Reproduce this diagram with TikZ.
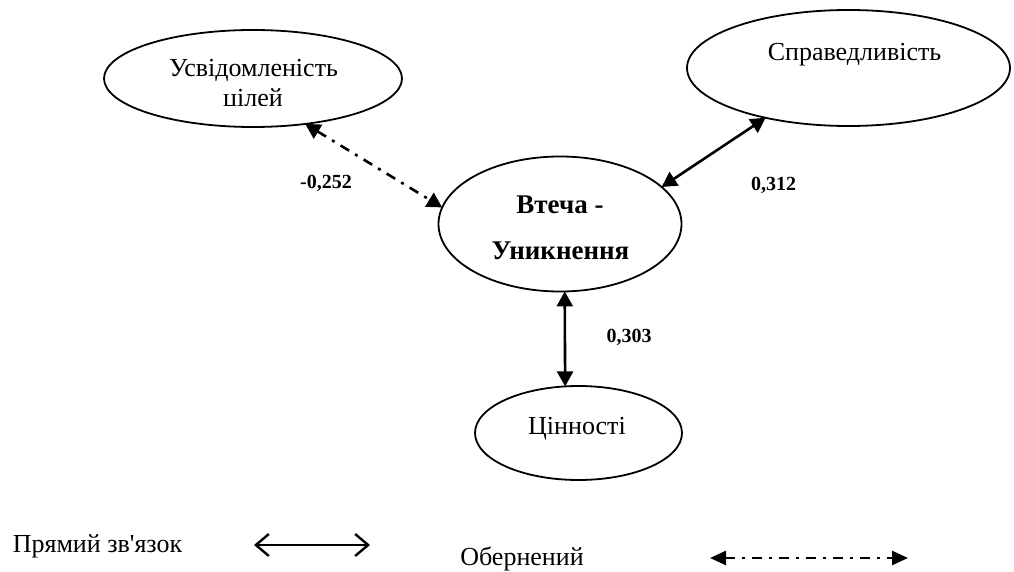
\documentclass[tikz,border=0pt]{standalone}
\usepackage{fontspec}
\setmainfont{Liberation Serif}
\usetikzlibrary{shapes.geometric,arrows.meta}
\begin{document}
\begin{tikzpicture}[x=1pt,y=-1pt,
  oval/.style={draw, ellipse, line width=1.8pt, inner sep=0pt, outer sep=0pt},
  txt/.style={font=\fontsize{26}{30}\selectfont, anchor=base, inner sep=0pt},
  bigtxt/.style={font=\fontsize{27}{32}\selectfont\bfseries, anchor=base, inner sep=0pt},
  coef/.style={font=\fontsize{20}{24}\selectfont\bfseries, anchor=base, inner sep=0pt},
  link/.style={line width=2.6pt, {Triangle[length=15pt,width=16pt]}-{Triangle[length=15pt,width=16pt]}},
  dashdot/.style={dash pattern=on 10pt off 7pt on 3pt off 7pt},
  inverse/.style={link, dashdot},
]
\useasboundingbox (0,0) rectangle (1014,572);

% ellipses
\node[oval, minimum width=298pt, minimum height=97pt] (usv) at (253,78.5) {};
\node[oval, minimum width=323pt, minimum height=116pt] (spr) at (848.5,68) {};
\node[oval, minimum width=243pt, minimum height=135pt] (vt) at (560,224) {};
\node[oval, minimum width=207pt, minimum height=94pt] (cin) at (578.5,433) {};

% ellipse texts
\node[txt] (usvA) at (253.5,77) {Усвідомленість};
\begin{scope}
  \clip (150,85) rectangle (360,106);
  \node[txt] (usvB) at (253,107) {цілей};
\end{scope}
\node[txt] (sprT) at (854.5,61) {Справедливість};
\node[bigtxt] (vtA) at (560,214) {Втеча -};
\node[bigtxt] (vtB) at (560.5,259) {Уникнення};
\node[txt] (cinT) at (577,434) {Цінності};

% connectors
\draw[inverse] (usv.-41) -- (vt.172);
\draw[link] (vt.20) -- (spr.211.5);
\draw[link] (vt.-86) -- (cin.106);

% coefficients
\node[coef] (c1) at (326,189) {-0,252};
\node[coef] (c2) at (773.5,191) {0,312};
\node[coef] (c3) at (629,342) {0,303};

% legend
\node[txt] (lgA) at (97.5,552) {\addfontfeatures{Ligatures=TeXOff}Прямий зв'язок};
\coordinate (lgA1) at (254,545);
\coordinate (lgA2) at (370,545);
\draw[line width=2.4pt, {Straight Barb[length=13pt,width=22pt]}-{Straight Barb[length=13pt,width=22pt]}] (lgA1) -- (lgA2);
\node[txt] (lgB) at (522,565) {Обернений};
\coordinate (lgB1) at (710,558);
\coordinate (lgB2) at (908,558);
\draw[line width=2.6pt, dashdot, {Triangle[length=16pt,width=14pt]}-{Triangle[length=16pt,width=14pt]}] (lgB1) -- (lgB2);
\end{tikzpicture}
\end{document}
